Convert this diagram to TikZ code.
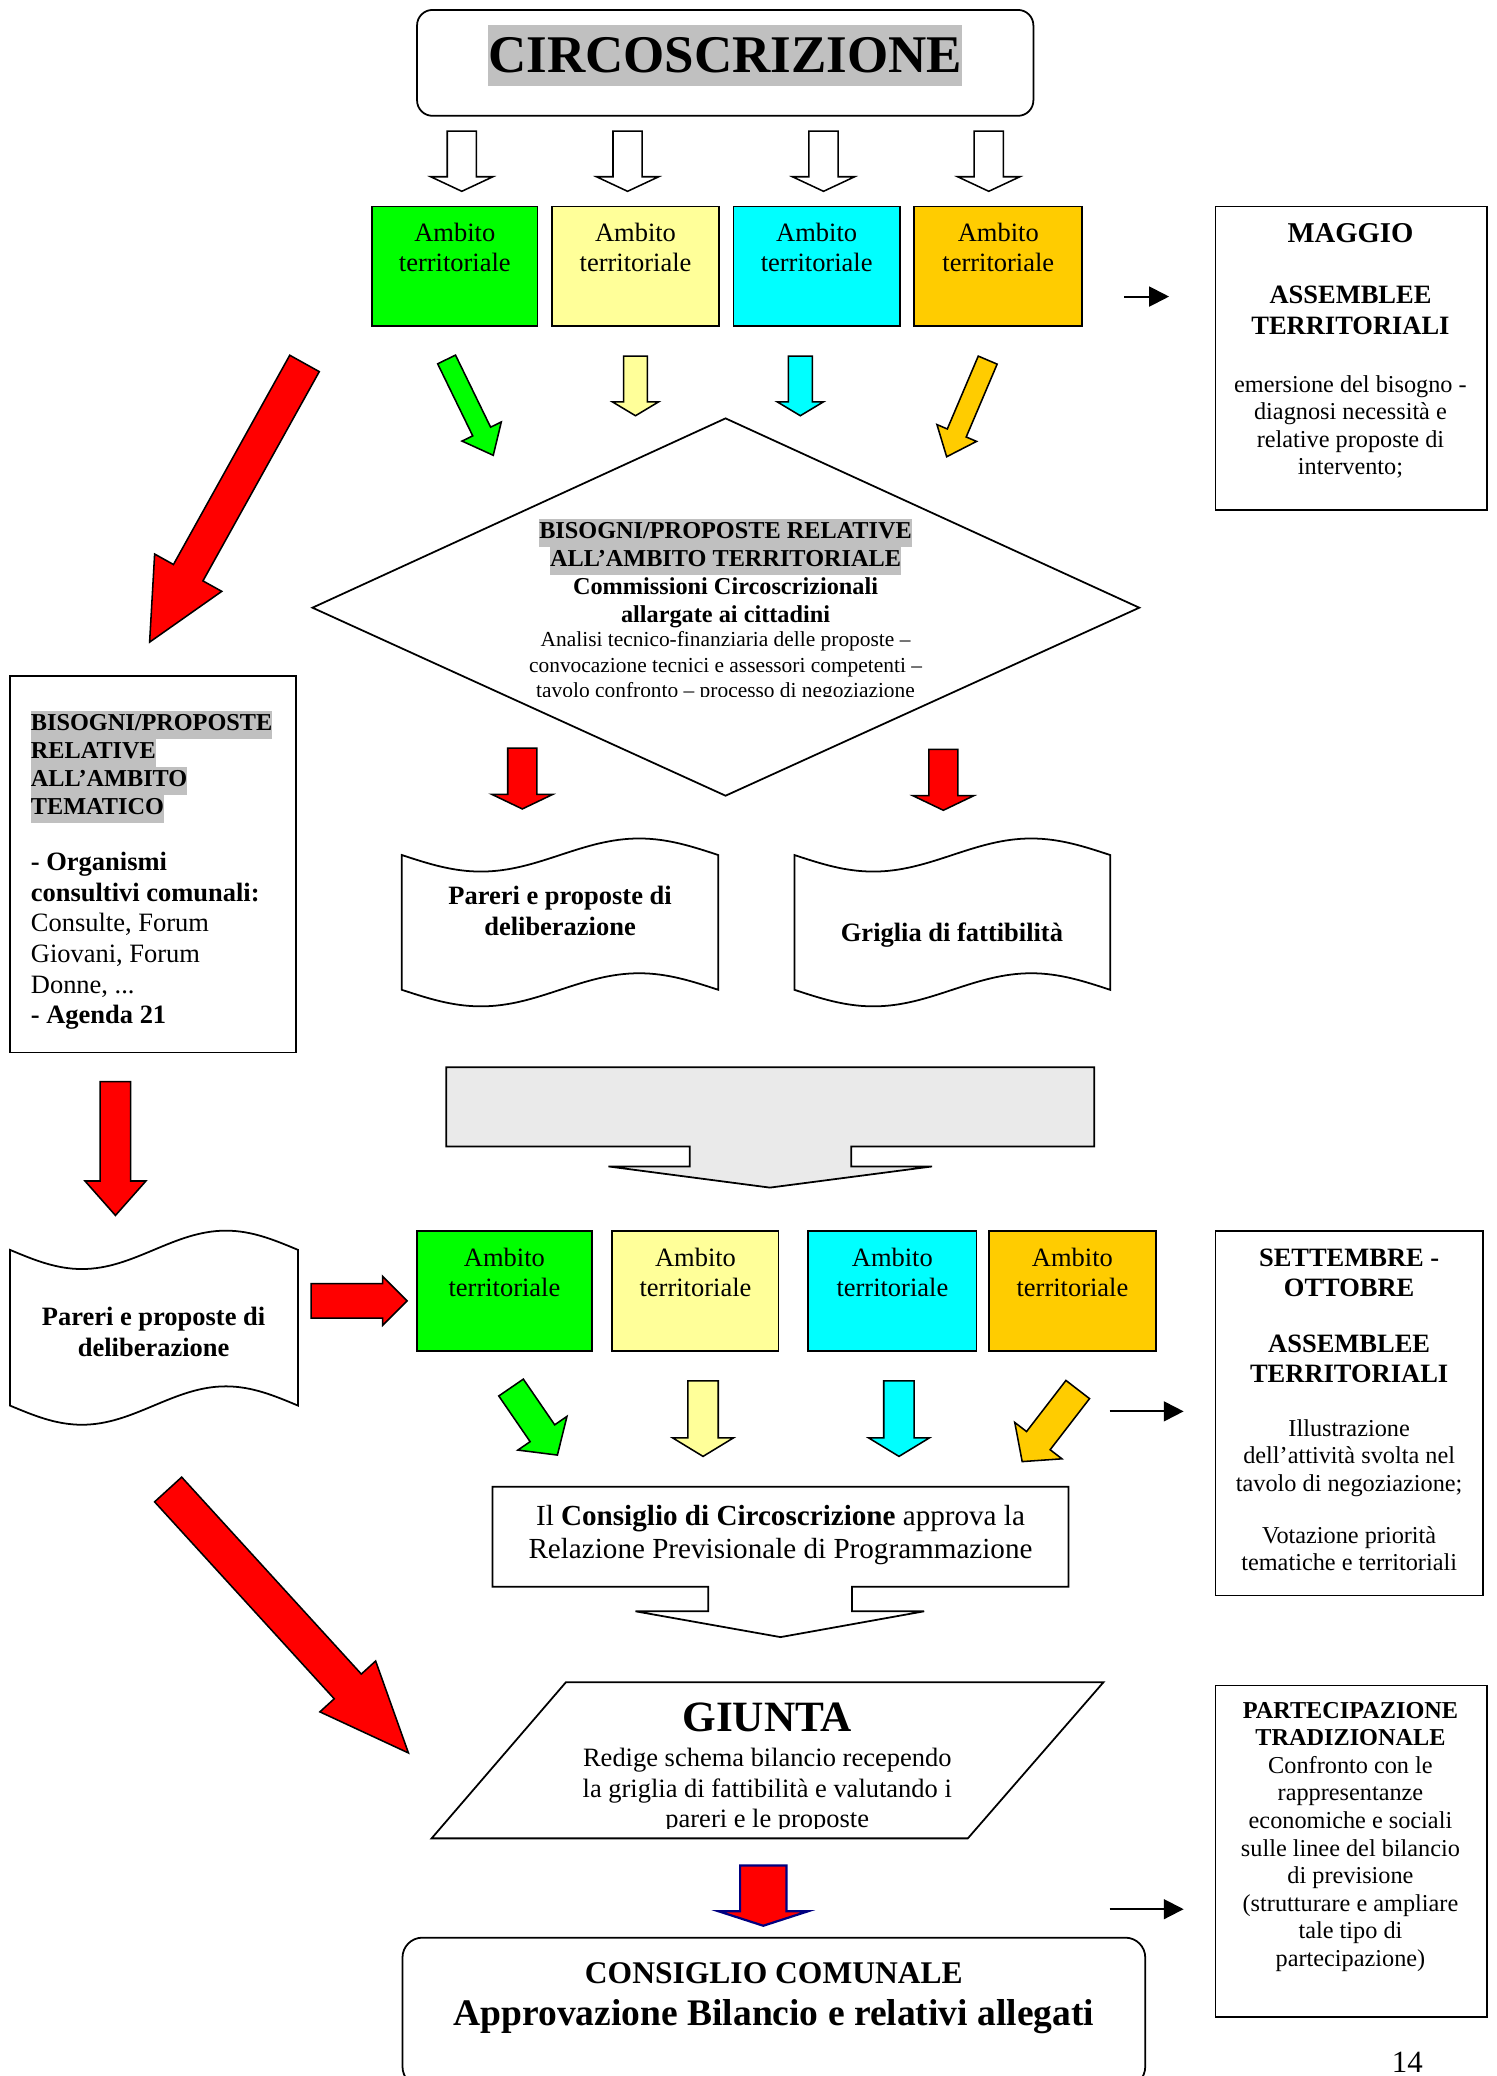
\documentclass[tikz,border=0pt]{standalone}
\usepackage{fontspec}
\setmainfont{Liberation Serif}
\usetikzlibrary{arrows.meta,fit}
\definecolor{agreen}{HTML}{00FF00}
\definecolor{ayellow}{HTML}{FFFF99}
\definecolor{acyan}{HTML}{00FFFF}
\definecolor{agold}{HTML}{FFCC00}
\definecolor{ared}{HTML}{FF0000}
\definecolor{hlgray}{HTML}{C0C0C0}
\definecolor{calgray}{HTML}{EAEAEA}
\definecolor{navyb}{HTML}{000080}
\newcommand\fs[2]{\fontsize{#1}{#2}\selectfont}
\newcommand\hl[1]{{\setlength{\fboxsep}{0pt}\colorbox{hlgray}{\strut #1}}}
\newcommand\NL{\\\strut}
% block arrow: style, x1, y1, x2, y2, shaft width, head width, head length
\newcommand\barr[8]{%
  \pgfmathsetmacro\arrAng{atan2(-((#5)-(#3)),(#4)-(#2))}%
  \pgfmathsetmacro\arrLen{veclen((#4)-(#2),(#5)-(#3))}%
  \pgfmathsetmacro\arrHb{\arrLen-(#8)}%
  \pgfmathsetmacro\arrS{(#6)/2}%
  \pgfmathsetmacro\arrW{(#7)/2}%
  \draw[#1,shift={(#2,#3)},rotate=\arrAng] (0,-\arrS) -- (\arrHb,-\arrS) -- (\arrHb,-\arrW) -- (\arrLen,0) -- (\arrHb,\arrW) -- (\arrHb,\arrS) -- (0,\arrS) -- cycle;%
}
% tape (punched paper) shape: style, x0, y0, x1, y1, amplitude
\newcommand\tapeshape[6]{%
  \pgfmathsetmacro\tW{(#4)-(#2)}%
  \draw[#1] (#2,#3) sin ({#2+\tW/4},{#3+#6}) cos ({#2+\tW/2},#3) sin ({#2+3*\tW/4},{#3-#6}) cos (#4,#3)
    -- (#4,#5) sin ({#4-\tW/4},{#5-#6}) cos ({#4-\tW/2},#5) sin ({#4-3*\tW/4},{#5+#6}) cos (#2,#5) -- cycle;%
}
\tikzset{
  txt/.style={inner sep=0pt, anchor=north, align=center},
  box/.style={draw, line width=0.8pt, inner sep=0pt},
  ln/.style={draw, line width=0.8pt, line join=miter},
  blk/.style={draw=black, line width=0.7pt, line join=miter},
  sarrow/.style={line width=0.9pt, -{Triangle[length=9pt,width=9pt]}},
  amb/.style={txt, font=\fs{12}{13.8}},
}
\begin{document}
\begin{tikzpicture}[x=0.6pt,y=-0.6pt]
\useasboundingbox (0,0) rectangle (1130.6,1568);

% ---- title
\node[box, rounded corners=7pt, fit={(315,7.5) (780.5,87.5)}] (circ) {};
\node[fill=hlgray, inner sep=0pt, minimum height={46*0.6pt}, font=\fs{24}{27}\bfseries] (circtxt) at (547.7,41.8) {CIRCOSCRIZIONE};

% ---- hollow arrows
\foreach \xx in {348.8,474,622,746.8} {\barr{blk,fill=white}{\xx}{99}{\xx}{144.5}{22}{47}{11}}

% ---- first row of ambiti
\node[box, fill=agreen, fit={(281,156) (406,246.5)}] (a1) {};
\node[box, fill=ayellow, fit={(417,156) (543,246.5)}] (a2) {};
\node[box, fill=acyan, fit={(554,156) (679.5,246.5)}] (a3) {};
\node[box, fill=agold, fit={(690.5,156) (817.5,246.5)}] (a4) {};
\node[amb] (a1t) at (343.5,166) {\strut Ambito\NL territoriale};
\node[amb] (a2t) at (480,166) {\strut Ambito\NL territoriale};
\node[amb] (a3t) at (616.8,166) {\strut Ambito\NL territoriale};
\node[amb] (a4t) at (754,166) {\strut Ambito\NL territoriale};

% ---- MAGGIO
\coordinate (m1a) at (849,224); \coordinate (m1b) at (883,224);
\draw[sarrow] (m1a) -- (m1b);
\node[box, fit={(918,156) (1123,385)}] (maggio) {};
\node[txt, font=\fs{12}{13.8}\bfseries] (maggiot) at (1020,167) {\strut{\fs{13}{13.8}MAGGIO}\NL\NL ASSEMBLEE\NL TERRITORIALI};
\node[txt, font=\fs{11}{12.5}] (maggiob) at (1020,281.3) {\strut emersione del bisogno -\NL diagnosi necessità e\NL relative proposte di\NL intervento;};

% ---- coloured arrows, row 1
\barr{blk,fill=agreen}{337.3}{271.5}{372.6}{344}{15}{33}{20}
\barr{blk,fill=ayellow}{480}{269}{480}{314}{18}{35}{10.5}
\barr{blk,fill=acyan}{604.5}{269}{604.5}{314}{18}{35}{10.5}
\barr{blk,fill=agold}{746}{272}{715}{345}{15.5}{32.5}{19.5}

% ---- big red arrow 1
\barr{blk,fill=ared}{230}{274.5}{113}{485}{25.5}{58}{60}

% ---- diamond
\coordinate (dT) at (548,316); \coordinate (dR) at (860.5,459);
\coordinate (dB) at (548,601); \coordinate (dL) at (236,459);
\draw[ln] (dT) -- (dR) -- (dB) -- (dL) -- cycle;
\begin{scope}
\clip (0,0) rectangle (1130,526);
\node[txt, font=\fs{11}{12.6}\bfseries] (dtitle) at (548,391.8) {\hl{BISOGNI/PROPOSTE RELATIVE}\\\hl{ALL’AMBITO TERRITORIALE}\NL Commissioni Circoscrizionali\NL allargate ai cittadini};
\node[txt, font=\fs{9.7}{11.4}] (dbody) at (548,475) {\strut Analisi tecnico-finanziaria delle proposte –\NL convocazione tecnici e assessori competenti –\NL tavolo confronto – processo di negoziazione};
\end{scope}

% ---- red arrows under diamond
\barr{blk,fill=ared}{394.5}{565}{394.5}{611}{22}{46}{11}
\barr{blk,fill=ared}{712.5}{566}{712.5}{612}{22}{46}{11}

% ---- documents
\tapeshape{ln}{303.5}{645.8}{542.5}{747.6}{12.5}
\node[txt, font=\fs{12}{14.2}\bfseries] (par1) at (423,666) {\strut Pareri e proposte di\NL deliberazione};
\tapeshape{ln}{600}{645.8}{838.5}{747.6}{12.5}
\node[txt, font=\fs{12}{13.8}\bfseries] (griglia) at (719,695) {\strut Griglia di fattibilità};

% ---- left box
\node[box, fit={(7.5,510.5) (223.5,795)}] (tema) {};
\node[inner sep=0pt, anchor=north west, align=left, font=\fs{11}{12.6}\bfseries] (tematit) at (23,537) {\hl{BISOGNI/PROPOSTE}\\\hl{RELATIVE}\\\hl{ALL’AMBITO}\\\hl{TEMATICO}};
\node[inner sep=0pt, anchor=north west, align=left, font=\fs{12}{13.9}] (temab) at (23,641) {\strut\textbf{- Organismi}\NL\textbf{consultivi comunali:}\NL Consulte, Forum\NL Giovani, Forum\NL Donne, ...\NL\textbf{- Agenda 21}};

% ---- red arrow down left
\barr{blk,fill=ared}{87.2}{817}{87.2}{918}{23}{46}{26}

% ---- gray callout
\draw[ln, fill=calgray] (337,806) -- (826.5,806) -- (826.5,866) -- (643,866) -- (643,881) -- (704,881) -- (581.5,897) -- (459.5,881) -- (521,881) -- (521,866) -- (337,866) -- cycle;

% ---- lower-left document
\tapeshape{ln}{7.5}{944}{225}{1061.6}{14.5}
\node[txt, font=\fs{12}{13.8}\bfseries] (par2) at (116,985) {\strut Pareri e proposte di\NL deliberazione};
\barr{blk,fill=ared}{235}{982.5}{307.5}{982.5}{26}{37}{18.5}

% ---- second row of ambiti
\node[box, fill=agreen, fit={(315,929.5) (447,1020.5)}] (b1) {};
\node[box, fill=ayellow, fit={(462.5,929.5) (588,1020.5)}] (b2) {};
\node[box, fill=acyan, fit={(610.5,929.5) (737.5,1020.5)}] (b3) {};
\node[box, fill=agold, fit={(747,929.5) (873,1020.5)}] (b4) {};
\node[amb] (b1t) at (381,940) {\strut Ambito\NL territoriale};
\node[amb] (b2t) at (525.3,940) {\strut Ambito\NL territoriale};
\node[amb] (b3t) at (674,940) {\strut Ambito\NL territoriale};
\node[amb] (b4t) at (810,940) {\strut Ambito\NL territoriale};

% ---- SETTEMBRE - OTTOBRE
\coordinate (m2a) at (838,1066); \coordinate (m2b) at (894,1066);
\draw[sarrow] (m2a) -- (m2b);
\node[box, fit={(918,930) (1120,1205)}] (sett) {};
\node[txt, font=\fs{12}{13.8}\bfseries] (sett1) at (1019,940) {\strut SETTEMBRE -\NL OTTOBRE};
\node[txt, font=\fs{12}{13.8}\bfseries] (sett2) at (1019,1005) {\strut ASSEMBLEE\NL TERRITORIALI};
\node[txt, font=\fs{11}{12.5}] (sett3) at (1019,1069.8) {\strut Illustrazione\NL dell’attività svolta nel\NL tavolo di negoziazione;};
\node[txt, font=\fs{11}{12.5}] (sett4) at (1019,1150.8) {\strut Votazione priorità\NL tematiche e territoriali};

% ---- coloured arrows, row 2
\barr{blk,fill=agreen}{386}{1048}{421}{1099}{22.5}{45}{20}
\barr{blk,fill=ayellow}{531}{1043}{531}{1100}{23}{46}{14}
\barr{blk,fill=acyan}{679}{1043}{679}{1100}{23}{46}{14}
\barr{blk,fill=agold}{814}{1049.5}{772}{1104}{22.5}{45}{20}

% ---- Consiglio di Circoscrizione callout
\draw[ln, fill=white] (372,1123) -- (807,1123) -- (807,1198.5) -- (643.5,1198.5) -- (643.5,1217) -- (698,1217) -- (589.5,1236.5) -- (480,1217) -- (535,1217) -- (535,1198.5) -- (372,1198.5) -- cycle;
\node[txt, font=\fs{13.2}{15}] (ccirc) at (589.5,1134) {\strut Il \textbf{Consiglio di Circoscrizione} approva la\NL Relazione Previsionale di Programmazione};

% ---- big red arrow 2
\barr{blk,fill=ared}{127}{1125}{308.5}{1324}{27.7}{57}{68}

% ---- GIUNTA
\coordinate (g1) at (427.5,1270.5); \coordinate (g2) at (833.5,1270.5);
\coordinate (g3) at (731,1388.5); \coordinate (g4) at (326,1388.5);
\draw[ln] (g1) -- (g2) -- (g3) -- (g4) -- cycle;
\node[inner sep=0pt, anchor=base, font=\fs{19.6}{22}\bfseries] (giunta) at (579.5,1308) {GIUNTA};
\begin{scope}
\clip (0,0) rectangle (1130,1381);
\node[txt, font=\fs{12}{13.8}] (giuntab) at (579.5,1318) {\strut Redige schema bilancio recependo\NL la griglia di fattibilità e valutando i\NL pareri e le proposte};
\end{scope}

% ---- navy-edged red arrow
\barr{draw=navyb,line width=1pt,line join=miter,fill=ared}{576.5}{1409}{576.5}{1454.5}{35}{68}{11}

% ---- Consiglio Comunale
\node[box, rounded corners=9pt, fit={(304,1463.5) (865,1576)}] (ccom) {};
\node[inner sep=0pt, anchor=base, font=\fs{14.3}{16}\bfseries] (ccom1) at (584.5,1498) {CONSIGLIO COMUNALE};
\node[inner sep=0pt, anchor=base, font=\fs{17}{20}\bfseries] (ccom2) at (584.5,1530) {Approvazione Bilancio e relativi allegati};

% ---- Partecipazione tradizionale
\coordinate (m3a) at (838,1442); \coordinate (m3b) at (894,1442);
\draw[sarrow] (m3a) -- (m3b);
\node[box, fit={(918,1273) (1123,1523.5)}] (part) {};
\node[txt, font=\fs{11}{12.5}] (partt) at (1020,1282.8) {\strut\textbf{PARTECIPAZIONE}\NL\textbf{TRADIZIONALE}\NL Confronto con le\NL rappresentanze\NL economiche e sociali\NL sulle linee del bilancio\NL di previsione\NL (strutturare e ampliare\NL tale tipo di\NL partecipazione)};

% ---- page number
\node[inner sep=0pt, anchor=base, font=\fs{14}{16}] (pnum) at (1063,1565) {14};
\end{tikzpicture}
\end{document}
